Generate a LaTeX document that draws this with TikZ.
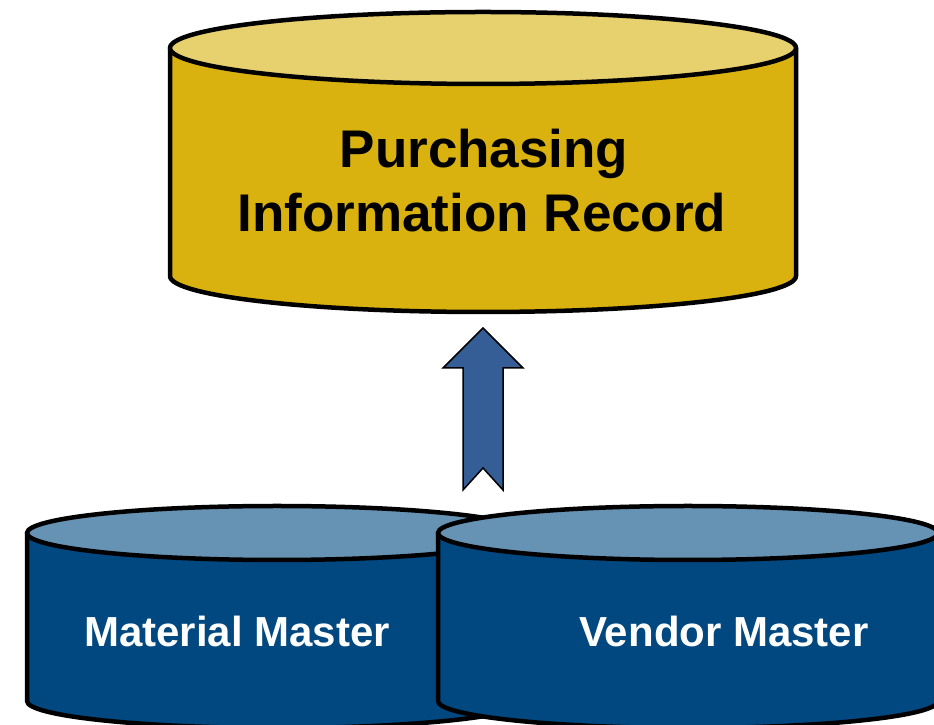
\documentclass[tikz,border=0pt]{standalone}
\usepackage{fontspec}
\setmainfont{Liberation Sans}
\definecolor{goldbody}{HTML}{DAB210}
\definecolor{goldtop}{HTML}{E7D06E}
\definecolor{bluebody}{HTML}{00487F}
\definecolor{bluetop}{HTML}{6692B4}
\definecolor{arrowblue}{HTML}{355E96}
\begin{document}
\begin{tikzpicture}[x=1pt,y=1pt,
  cyl/.style={draw=black,line width=4.5pt,line join=round},
  bigtxt/.style={font=\fontsize{53}{64}\selectfont\bfseries,text=black,inner sep=0pt,anchor=base},
  smalltxt/.style={font=\fontsize{42}{50}\selectfont\bfseries,text=white,inner sep=0pt,anchor=base}]
\useasboundingbox (0,0) rectangle (934,725);
\clip (0,0) rectangle (934,725);
% top cylinder
\draw[cyl,fill=goldbody] (170,677) -- (170,449) arc[start angle=180,end angle=360,x radius=313,y radius=36] -- (796,677) -- cycle;
\draw[cyl,fill=goldtop] (483,677) ellipse[x radius=313,y radius=36];
\node[bigtxt] (pir1) at (484,557) {Purchasing};
\node[bigtxt] (pir2) at (482,493) {Information Record};
% arrow
\draw[fill=arrowblue,line width=1.5pt,line join=miter] (483,397) -- (523,357) -- (503,357) -- (503,235) -- (483,257) -- (463,235) -- (463,357) -- (443,357) -- cycle;
% left cylinder
\draw[cyl,fill=bluebody] (27,192) -- (27,24) arc[start angle=180,end angle=360,x radius=250,y radius=27] -- (527,192) -- cycle;
\draw[cyl,fill=bluetop] (277,192) ellipse[x radius=250,y radius=27];
% right cylinder
\draw[cyl,fill=bluebody] (438,192) -- (438,24) arc[start angle=180,end angle=360,x radius=250,y radius=27] -- (938,192) -- cycle;
\draw[cyl,fill=bluetop] (688,192) ellipse[x radius=250,y radius=27];
\node[smalltxt] (mm) at (237,78) {Material Master};
\node[smalltxt] (vm) at (724,78) {Vendor Master};
\end{tikzpicture}
\end{document}
